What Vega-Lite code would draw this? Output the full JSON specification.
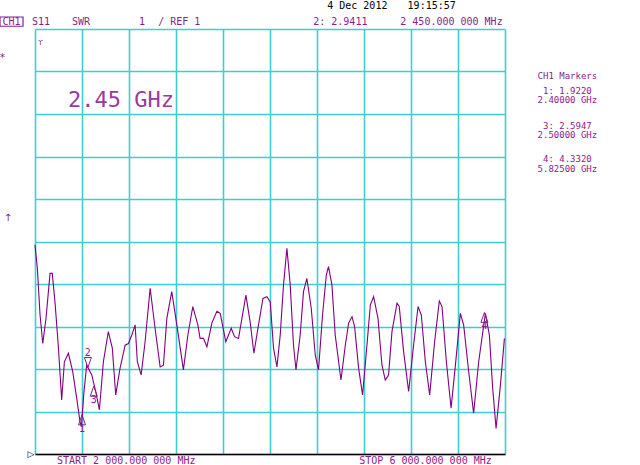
{
  "$schema": "https://vega.github.io/schema/vega-lite/v6.json",
  "autosize": "none",
  "width": 470,
  "height": 425,
  "padding": {"left": 35, "top": 29, "right": 135, "bottom": 11},
  "background": "white",
  "config": {"view": {"stroke": null}},
  "datasets": {
    "trace": [
      {"f":2.000,"s":5.92},{"f":2.020,"s":5.37},{"f":2.043,"s":4.27},{"f":2.066,"s":3.60},{"f":2.094,"s":4.20},{"f":2.128,"s":5.25},{"f":2.147,"s":5.25},{"f":2.170,"s":4.58},{"f":2.198,"s":3.56},{"f":2.227,"s":2.27},{"f":2.250,"s":3.17},{"f":2.284,"s":3.37},{"f":2.321,"s":2.94},{"f":2.355,"s":2.31},{"f":2.383,"s":1.76},{"f":2.395,"s":1.64},{"f":2.402,"s":1.92},{"f":2.417,"s":2.47},{"f":2.440,"s":3.09},{"f":2.483,"s":2.86},{"f":2.517,"s":2.47},{"f":2.548,"s":2.04},{"f":2.582,"s":3.17},{"f":2.624,"s":3.88},{"f":2.658,"s":3.49},{"f":2.687,"s":2.39},{"f":2.724,"s":3.02},{"f":2.767,"s":3.56},{"f":2.795,"s":3.60},{"f":2.824,"s":3.80},{"f":2.852,"s":4.04},{"f":2.871,"s":3.17},{"f":2.903,"s":2.86},{"f":2.937,"s":3.64},{"f":2.980,"s":4.90},{"f":3.022,"s":3.96},{"f":3.065,"s":3.05},{"f":3.093,"s":3.09},{"f":3.122,"s":4.19},{"f":3.164,"s":4.82},{"f":3.207,"s":4.04},{"f":3.263,"s":2.98},{"f":3.301,"s":3.80},{"f":3.343,"s":4.47},{"f":3.386,"s":4.04},{"f":3.405,"s":3.72},{"f":3.434,"s":3.72},{"f":3.463,"s":3.52},{"f":3.505,"s":4.08},{"f":3.548,"s":4.36},{"f":3.576,"s":4.31},{"f":3.604,"s":3.92},{"f":3.624,"s":3.64},{"f":3.647,"s":3.80},{"f":3.670,"s":3.96},{"f":3.698,"s":3.76},{"f":3.732,"s":3.72},{"f":3.761,"s":4.19},{"f":3.795,"s":4.74},{"f":3.831,"s":4.11},{"f":3.863,"s":3.37},{"f":3.902,"s":4.04},{"f":3.940,"s":4.66},{"f":3.974,"s":4.70},{"f":4.002,"s":4.58},{"f":4.030,"s":3.49},{"f":4.059,"s":3.05},{"f":4.087,"s":3.80},{"f":4.115,"s":4.98},{"f":4.144,"s":5.84},{"f":4.172,"s":4.98},{"f":4.200,"s":3.56},{"f":4.221,"s":2.98},{"f":4.257,"s":3.80},{"f":4.285,"s":4.82},{"f":4.314,"s":5.13},{"f":4.351,"s":4.43},{"f":4.385,"s":3.33},{"f":4.413,"s":2.98},{"f":4.447,"s":4.27},{"f":4.479,"s":5.21},{"f":4.498,"s":5.41},{"f":4.527,"s":4.98},{"f":4.555,"s":3.80},{"f":4.604,"s":2.74},{"f":4.641,"s":3.56},{"f":4.669,"s":4.08},{"f":4.698,"s":4.23},{"f":4.720,"s":4.00},{"f":4.754,"s":3.02},{"f":4.788,"s":2.39},{"f":4.825,"s":3.56},{"f":4.854,"s":4.51},{"f":4.882,"s":4.70},{"f":4.919,"s":4.19},{"f":4.953,"s":3.09},{"f":4.981,"s":2.74},{"f":5.009,"s":2.86},{"f":5.038,"s":3.88},{"f":5.081,"s":4.55},{"f":5.100,"s":4.47},{"f":5.137,"s":3.41},{"f":5.180,"s":2.47},{"f":5.222,"s":3.56},{"f":5.260,"s":4.47},{"f":5.288,"s":4.27},{"f":5.322,"s":3.17},{"f":5.359,"s":2.39},{"f":5.401,"s":3.64},{"f":5.441,"s":4.60},{"f":5.464,"s":4.47},{"f":5.501,"s":3.17},{"f":5.541,"s":2.08},{"f":5.578,"s":3.09},{"f":5.620,"s":4.31},{"f":5.648,"s":4.04},{"f":5.691,"s":2.94},{"f":5.733,"s":1.96},{"f":5.776,"s":3.17},{"f":5.833,"s":4.31},{"f":5.867,"s":3.80},{"f":5.895,"s":2.55},{"f":5.924,"s":1.60},{"f":5.961,"s":2.62},{"f":5.995,"s":3.72}
    ],
    "headerText": [
      {"f":1.974,"s":11.165,"t":"S11"},
      {"f":2.315,"s":11.165,"t":"SWR"},
      {"f":2.886,"s":11.165,"t":"1"},
      {"f":3.048,"s":11.165,"t":"/ REF 1"},
      {"f":4.368,"s":11.165,"t":"2: 2.9411"},
      {"f":5.109,"s":11.165,"t":"2 450.000 000 MHz"}
    ],
    "footText": [
      {"f":2.187,"s":0.755,"t":"START 2 000.000 000 MHz"},
      {"f":4.760,"s":0.755,"t":"STOP 6 000.000 000 MHz"}
    ],
    "chBox": [{"f":1.702,"f2":1.898,"s":11.282,"s2":11.065}],
    "chText": [{"f":1.800,"s":11.17,"t":"CH1"}],
    "dateText": [
      {"f":4.487,"s":11.53,"t":"4 Dec 2012"},
      {"f":5.171,"s":11.53,"t":"19:15:57"}
    ],
    "bigText": [{"f":2.281,"s":9.34,"t":"2.45 GHz"}],
    "panelText": [
      {"f":6.531,"s":9.894,"t":"CH1 Markers"},
      {"f":6.531,"s":9.541,"t":"1: 1.9220"},
      {"f":6.531,"s":9.318,"t":"2.40000 GHz"},
      {"f":6.531,"s":8.729,"t":"3: 2.5947"},
      {"f":6.531,"s":8.506,"t":"2.50000 GHz"},
      {"f":6.531,"s":7.936,"t":"4: 4.3320"},
      {"f":6.531,"s":7.713,"t":"5.82500 GHz"}
    ],
    "glyphs": [
      {"f":1.723,"s":10.318,"t":"*"},
      {"f":1.770,"s":6.553,"t":"↑"}
    ],
    "smallGlyph": [
      {"f":2.047,"s":10.671,"t":"ϒ"}
    ],
    "refMark": [{"f":1.966,"s":1.0,"t":"▷"}],
    "markersUp": [
      {"f":2.40,"s":1.922,"m":"1"},
      {"f":2.50,"s":2.5947,"m":"3"},
      {"f":5.825,"s":4.332,"m":"4"}
    ],
    "markersDown": [
      {"f":2.45,"s":2.9411,"m":"2"}
    ]
  },
  "layer": [
    {
      "data": {"name": "trace"},
      "mark": {"type": "line", "color": "#800080", "strokeWidth": 1.1},
      "encoding": {
        "x": {"field": "f", "type": "quantitative", "scale": {"domain": [2, 6], "nice": false, "zero": false},
          "axis": {"values": [2,2.4,2.8,3.2,3.6,4.0,4.4,4.8,5.2,5.6,6], "grid": true, "gridColor": "#3ccfd0", "gridWidth": 1.6, "gridOpacity": 1, "labels": false, "ticks": false, "domain": true, "domainColor": "#000000", "domainWidth": 1.5, "title": null}},
        "y": {"field": "s", "type": "quantitative", "scale": {"domain": [1, 11], "nice": false, "zero": false},
          "axis": {"values": [1,2,3,4,5,6,7,8,9,10,11], "grid": true, "gridColor": "#3ccfd0", "gridWidth": 1.6, "gridOpacity": 1, "labels": false, "ticks": false, "domain": false, "title": null}}
      }
    },
    {
      "data": {"name": "headerText"},
      "mark": {"type": "text", "font": "DejaVu Sans Mono", "fontSize": 10, "align": "left", "baseline": "middle", "color": "#8b1c8b"},
      "encoding": {"x": {"field": "f", "type": "quantitative"}, "y": {"field": "s", "type": "quantitative"}, "text": {"field": "t"}}
    },
    {
      "data": {"name": "footText"},
      "mark": {"type": "text", "font": "DejaVu Sans Mono", "fontSize": 10, "align": "left", "baseline": "alphabetic", "color": "#8b1c8b"},
      "encoding": {"x": {"field": "f", "type": "quantitative"}, "y": {"field": "s", "type": "quantitative"}, "text": {"field": "t"}}
    },
    {
      "data": {"name": "chBox"},
      "mark": {"type": "rect", "filled": false, "stroke": "#8b1c8b", "strokeWidth": 1.2},
      "encoding": {"x": {"field": "f", "type": "quantitative"}, "x2": {"field": "f2"}, "y": {"field": "s", "type": "quantitative"}, "y2": {"field": "s2"}}
    },
    {
      "data": {"name": "chText"},
      "mark": {"type": "text", "font": "DejaVu Sans Mono", "fontSize": 10, "align": "center", "baseline": "middle", "color": "#8b1c8b"},
      "encoding": {"x": {"field": "f", "type": "quantitative"}, "y": {"field": "s", "type": "quantitative"}, "text": {"field": "t"}}
    },
    {
      "data": {"name": "dateText"},
      "mark": {"type": "text", "font": "DejaVu Sans Mono", "fontSize": 10, "align": "left", "baseline": "middle", "color": "#000000"},
      "encoding": {"x": {"field": "f", "type": "quantitative"}, "y": {"field": "s", "type": "quantitative"}, "text": {"field": "t"}}
    },
    {
      "data": {"name": "bigText"},
      "mark": {"type": "text", "font": "DejaVu Sans Mono", "fontSize": 22, "align": "left", "baseline": "middle", "color": "#9a3a9a"},
      "encoding": {"x": {"field": "f", "type": "quantitative"}, "y": {"field": "s", "type": "quantitative"}, "text": {"field": "t"}}
    },
    {
      "data": {"name": "panelText"},
      "mark": {"type": "text", "font": "DejaVu Sans Mono", "fontSize": 9, "align": "center", "baseline": "middle", "color": "#8b1c8b"},
      "encoding": {"x": {"field": "f", "type": "quantitative"}, "y": {"field": "s", "type": "quantitative"}, "text": {"field": "t"}}
    },
    {
      "data": {"name": "glyphs"},
      "mark": {"type": "text", "font": "DejaVu Sans", "fontSize": 10, "align": "center", "baseline": "middle", "color": "#8b1c8b"},
      "encoding": {"x": {"field": "f", "type": "quantitative"}, "y": {"field": "s", "type": "quantitative"}, "text": {"field": "t"}}
    },
    {
      "data": {"name": "smallGlyph"},
      "mark": {"type": "text", "font": "DejaVu Sans", "fontSize": 7, "align": "center", "baseline": "middle", "color": "#8b1c8b"},
      "encoding": {"x": {"field": "f", "type": "quantitative"}, "y": {"field": "s", "type": "quantitative"}, "text": {"field": "t"}}
    },
    {
      "data": {"name": "refMark"},
      "mark": {"type": "text", "font": "DejaVu Sans", "fontSize": 9, "align": "center", "baseline": "middle", "color": "#000000"},
      "encoding": {"x": {"field": "f", "type": "quantitative"}, "y": {"field": "s", "type": "quantitative"}, "text": {"field": "t"}}
    },
    {
      "data": {"name": "markersUp"},
      "mark": {"type": "point", "shape": "M0,0L-0.7,2L0.7,2Z", "size": 100, "filled": false, "stroke": "#8b1c8b", "strokeWidth": 1, "opacity": 1},
      "encoding": {"x": {"field": "f", "type": "quantitative"}, "y": {"field": "s", "type": "quantitative"}}
    },
    {
      "data": {"name": "markersUp"},
      "mark": {"type": "text", "font": "DejaVu Sans Mono", "fontSize": 10, "align": "center", "baseline": "top", "dy": 9, "color": "#8b1c8b"},
      "encoding": {"x": {"field": "f", "type": "quantitative"}, "y": {"field": "s", "type": "quantitative"}, "text": {"field": "m"}}
    },
    {
      "data": {"name": "markersDown"},
      "mark": {"type": "point", "shape": "M0,0L-0.7,-2L0.7,-2Z", "size": 100, "filled": false, "stroke": "#8b1c8b", "strokeWidth": 1, "opacity": 1, "yOffset": -4},
      "encoding": {"x": {"field": "f", "type": "quantitative"}, "y": {"field": "s", "type": "quantitative"}}
    },
    {
      "data": {"name": "markersDown"},
      "mark": {"type": "text", "font": "DejaVu Sans Mono", "fontSize": 10, "align": "center", "baseline": "bottom", "dy": -14, "color": "#8b1c8b"},
      "encoding": {"x": {"field": "f", "type": "quantitative"}, "y": {"field": "s", "type": "quantitative"}, "text": {"field": "m"}}
    }
  ]
}
